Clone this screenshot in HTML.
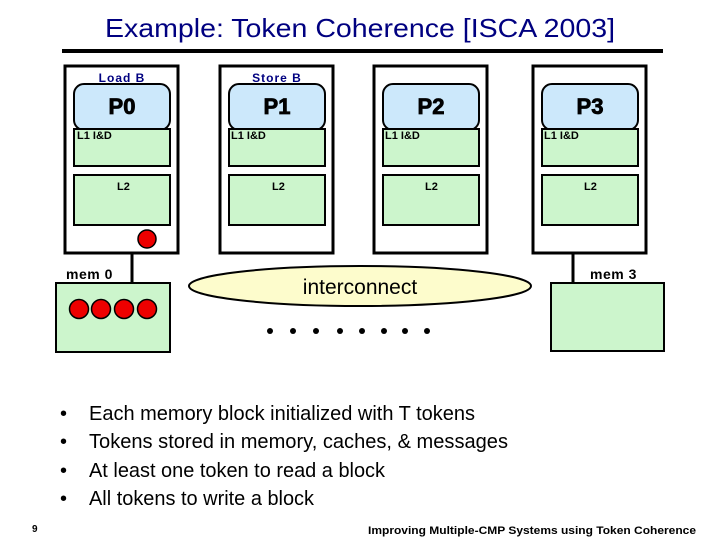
<!DOCTYPE html>
<html><head><meta charset="utf-8"><style>
html,body{margin:0;padding:0;background:#fff;}
svg{display:block;font-family:"Liberation Sans",Arial,sans-serif;}
</style></head><body>
<svg width="720" height="540" viewBox="0 0 720 540" xmlns="http://www.w3.org/2000/svg">
<rect width="720" height="540" fill="#fff"/>
<text x="360" y="37" text-anchor="middle" font-size="26" fill="#000080" textLength="510" lengthAdjust="spacingAndGlyphs">Example:  Token Coherence [ISCA 2003]</text>
<rect x="62" y="49" width="601" height="4" fill="#000"/>

<g stroke="#000" stroke-width="3" fill="#fff">
<rect x="65" y="66" width="113" height="187"/>
<rect x="220" y="66" width="113" height="187"/>
<rect x="374" y="66" width="113" height="187"/>
<rect x="533" y="66" width="113" height="187"/>
</g>
<g stroke="#000" stroke-width="2">
<rect x="74" y="84" width="96" height="46" rx="10" fill="#cce8fb"/>
<rect x="229" y="84" width="96" height="46" rx="10" fill="#cce8fb"/>
<rect x="383" y="84" width="96" height="46" rx="10" fill="#cce8fb"/>
<rect x="542" y="84" width="96" height="46" rx="10" fill="#cce8fb"/>
<rect x="74" y="129" width="96" height="37" fill="#ccf5cc"/>
<rect x="229" y="129" width="96" height="37" fill="#ccf5cc"/>
<rect x="383" y="129" width="96" height="37" fill="#ccf5cc"/>
<rect x="542" y="129" width="96" height="37" fill="#ccf5cc"/>
<rect x="74" y="175" width="96" height="50" fill="#ccf5cc"/>
<rect x="229" y="175" width="96" height="50" fill="#ccf5cc"/>
<rect x="383" y="175" width="96" height="50" fill="#ccf5cc"/>
<rect x="542" y="175" width="96" height="50" fill="#ccf5cc"/>
</g>
<g font-weight="bold" font-size="12" fill="#000080" text-anchor="middle">
<text x="122" y="82" letter-spacing="1">Load B</text>
<text x="277" y="82" letter-spacing="1">Store B</text>
</g>
<g font-weight="bold" font-size="22" fill="#000" text-anchor="middle" stroke="#000" stroke-width="0.8">
<text x="122" y="114">P0</text>
<text x="277" y="114">P1</text>
<text x="431" y="114">P2</text>
<text x="590" y="114">P3</text>
</g>
<g font-weight="bold" font-size="11" fill="#000">
<text x="77" y="139">L1 I&amp;D</text>
<text x="231" y="139">L1 I&amp;D</text>
<text x="385" y="139">L1 I&amp;D</text>
<text x="544" y="139">L1 I&amp;D</text>
<text x="117" y="190">L2</text>
<text x="272" y="190">L2</text>
<text x="425" y="190">L2</text>
<text x="584" y="190">L2</text>
</g>
<circle cx="147" cy="239" r="9" fill="#e00" stroke="#000" stroke-width="1.5"/>

<line x1="132" y1="253" x2="132" y2="283" stroke="#000" stroke-width="3"/>
<line x1="573" y1="253" x2="573" y2="283" stroke="#000" stroke-width="3"/>
<rect x="56" y="283" width="114" height="69" fill="#ccf5cc" stroke="#000" stroke-width="2"/>
<rect x="551" y="283" width="113" height="68" fill="#ccf5cc" stroke="#000" stroke-width="2"/>
<text x="66" y="279" font-weight="bold" font-size="14" fill="#000" letter-spacing="0.5">mem 0</text>
<text x="590" y="279" font-weight="bold" font-size="14" fill="#000" letter-spacing="0.5">mem 3</text>
<g fill="#e00" stroke="#000" stroke-width="1.5">
<circle cx="79" cy="309" r="9.5"/><circle cx="101" cy="309" r="9.5"/><circle cx="124" cy="309" r="9.5"/><circle cx="147" cy="309" r="9.5"/>
</g>

<ellipse cx="360" cy="286" rx="171" ry="20" fill="#fdfccc" stroke="#000" stroke-width="2"/>
<text x="360" y="294" text-anchor="middle" font-size="21" fill="#000">interconnect</text>
<g fill="#000">
<circle cx="270" cy="331" r="3"/><circle cx="293" cy="331" r="3"/><circle cx="316" cy="331" r="3"/><circle cx="340" cy="331" r="3"/><circle cx="362" cy="331" r="3"/><circle cx="384" cy="331" r="3"/><circle cx="405" cy="331" r="3"/><circle cx="427" cy="331" r="3"/>
</g>

<g font-size="20" fill="#000">
<text x="60" y="420">•</text><text x="89" y="420" textLength="386" lengthAdjust="spacingAndGlyphs">Each memory block initialized with T tokens</text>
<text x="60" y="448">•</text><text x="89" y="448" textLength="419" lengthAdjust="spacingAndGlyphs">Tokens stored in memory, caches, &amp; messages</text>
<text x="60" y="477">•</text><text x="89" y="477" textLength="296" lengthAdjust="spacingAndGlyphs">At least one token to read a block</text>
<text x="60" y="505">•</text><text x="89" y="505" textLength="225" lengthAdjust="spacingAndGlyphs">All tokens to write a block</text>
</g>
<text x="32" y="532" font-size="10" font-weight="bold" fill="#000">9</text>
<text x="696" y="534" text-anchor="end" font-size="11" font-weight="bold" fill="#000" textLength="328" lengthAdjust="spacingAndGlyphs">Improving Multiple-CMP Systems using Token Coherence</text>
</svg>
</body></html>
